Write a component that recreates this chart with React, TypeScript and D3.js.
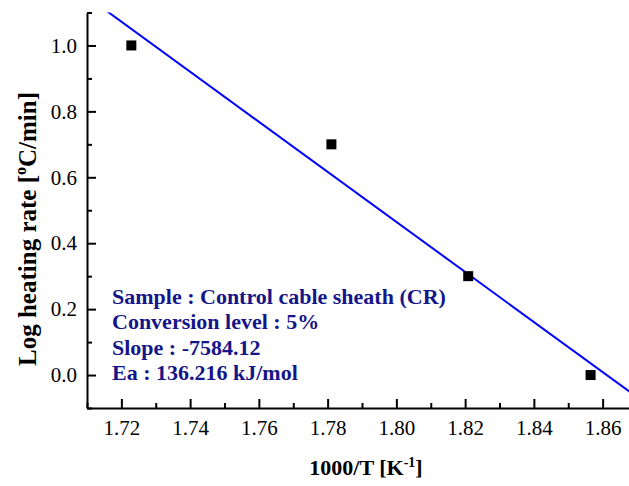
import React, { useRef, useEffect } from "react";
import * as d3 from "d3";

// inverse temperature (1000/T) and log heating rate
const invTemp = [1.7229, 1.7811, 1.8209, 1.8565];
const logRate = [1.0, 0.7, 0.3, 0.0];

const xMajor = [1.72, 1.74, 1.76, 1.78, 1.8, 1.82, 1.84, 1.86];
const xMinor = [1.71, 1.73, 1.75, 1.77, 1.79, 1.81, 1.83, 1.85, 1.87];
const yMajor = [0.0, 0.2, 0.4, 0.6, 0.8, 1.0];
const yMinor = [-0.1, 0.1, 0.3, 0.5, 0.7, 0.9, 1.1];

const notes = [
  "Sample : Control cable sheath (CR)",
  "Conversion level : 5%",
  "Slope : -7584.12",
  "Ea : 136.216 kJ/mol",
];

const App = () => {
  const container = useRef(null);

  const width = 629;
  const height = 486;
  const margin = { left: 87, right: -8, top: 12.5, bottom: 78 };

  useEffect(() => {
    const svg = d3.select(container.current);
    svg.selectAll("*").remove();

    const x = d3
      .scaleLinear()
      .domain([1.71, 1.87])
      .range([margin.left, width - margin.right]);
    const y = d3
      .scaleLinear()
      .domain([-0.1, 1.1])
      .range([height - margin.bottom, margin.top]);

    const font = "'Liberation Serif', 'Times New Roman', serif";

    svg
      .append("clipPath")
      .attr("id", "plotClip")
      .append("rect")
      .attr("x", margin.left)
      .attr("y", margin.top)
      .attr("width", width - margin.left - margin.right)
      .attr("height", height - margin.top - margin.bottom);

    // least squares fit line
    const mx = d3.mean(invTemp);
    const my = d3.mean(logRate);
    const sxy = d3.sum(invTemp, (v, i) => (v - mx) * (logRate[i] - my));
    const sxx = d3.sum(invTemp, (v) => (v - mx) * (v - mx));
    const slope = sxy / sxx;
    const fit = (v) => my + slope * (v - mx);
    const xd = x.domain();

    svg
      .append("path")
      .attr("clip-path", "url(#plotClip)")
      .attr(
        "d",
        d3
          .line()
          .x((d) => x(d))
          .y((d) => y(fit(d)))(xd)
      )
      .attr("fill", "none")
      .attr("stroke", "#0000ff")
      .attr("stroke-width", 2);

    // points
    svg
      .selectAll(".pt")
      .data(invTemp)
      .enter()
      .append("rect")
      .attr("x", (d) => x(d) - 5)
      .attr("y", (d, i) => y(logRate[i]) - 5)
      .attr("width", 10)
      .attr("height", 10)
      .attr("fill", "#000");

    // axes
    const xAxis = svg
      .append("g")
      .attr("transform", `translate(0, ${height - margin.bottom})`)
      .call(
        d3
          .axisBottom(x)
          .tickValues(xMajor)
          .tickSizeInner(-9)
          .tickSizeOuter(0)
          .tickPadding(12)
          .tickFormat(d3.format(".2f"))
      );
    svg
      .append("g")
      .attr("transform", `translate(0, ${height - margin.bottom})`)
      .call(d3.axisBottom(x).tickValues(xMinor).tickSizeInner(-5).tickSizeOuter(0).tickFormat(() => ""))
      .select(".domain")
      .remove();

    const yAxis = svg
      .append("g")
      .attr("transform", `translate(${margin.left}, 0)`)
      .call(
        d3
          .axisLeft(y)
          .tickValues(yMajor)
          .tickSizeInner(-9)
          .tickSizeOuter(0)
          .tickPadding(10)
          .tickFormat(d3.format(".1f"))
      );
    svg
      .append("g")
      .attr("transform", `translate(${margin.left}, 0)`)
      .call(d3.axisLeft(y).tickValues(yMinor).tickSizeInner(-5).tickSizeOuter(0).tickFormat(() => ""))
      .select(".domain")
      .remove();

    svg.selectAll(".domain").attr("stroke", "#000").attr("stroke-width", 2);
    svg.selectAll(".tick line").attr("stroke", "#000").attr("stroke-width", 2);
    [xAxis, yAxis].forEach((g) =>
      g
        .selectAll("text")
        .style("font-family", font)
        .style("font-size", "21px")
        .attr("fill", "#000")
    );

    // axis titles
    const xt = svg
      .append("text")
      .attr("x", 366)
      .attr("y", 475)
      .attr("text-anchor", "middle")
      .style("font-family", font)
      .style("font-size", "22px")
      .style("font-weight", "bold");
    xt.append("tspan").text("1000/T [K");
    xt.append("tspan").attr("dy", -8).style("font-size", "14px").text("-1");
    xt.append("tspan").attr("dy", 8).text("]");

    const yt = svg
      .append("text")
      .attr("transform", `translate(36, 229) rotate(-90)`)
      .attr("text-anchor", "middle")
      .style("font-family", font)
      .style("font-size", "25px")
      .style("font-weight", "bold");
    yt.append("tspan").text("Log heating rate [");
    yt.append("tspan").attr("dy", -10).style("font-size", "16px").text("o");
    yt.append("tspan").attr("dy", 10).text("C/min]");

    // annotation
    svg
      .selectAll(".note")
      .data(notes)
      .enter()
      .append("text")
      .attr("x", 112)
      .attr("y", (d, i) => 304 + i * 25.3)
      .style("font-family", font)
      .style("font-size", "22px")
      .style("font-weight", "bold")
      .attr("fill", "#15158a")
      .text((d) => d);
    // eslint-disable-next-line react-hooks/exhaustive-deps
  }, []);

  return (
    <div style={{ position: "absolute", left: 0, top: 0, width: width, height: height, background: "#fff" }}>
      <svg ref={container} width={width} height={height} style={{ display: "block" }} />
    </div>
  );
};

export default App;
